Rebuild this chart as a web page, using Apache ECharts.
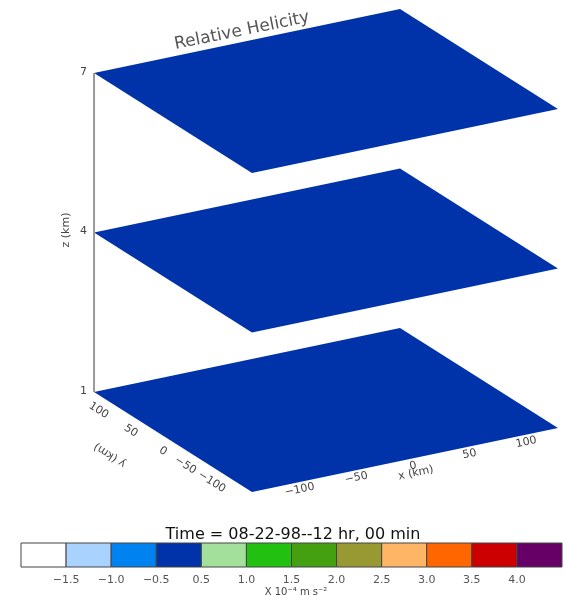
<!DOCTYPE html>
<html>
<head>
<meta charset="utf-8">
<script src="https://cdn.jsdelivr.net/npm/echarts@6/dist/echarts.min.js"></script>
<style>
html,body{margin:0;padding:0;background:#fff}
#main{width:565px;height:596px}
</style>
</head>
<body>
<div id="main"></div>
<script>
//数据
var zLevels = [1, 4, 7];
var xRange = [-135, 135];
var yRange = [-135, 135];
var xTicks = [-100, -50, 0, 50, 100];
var yTicks = [-100, -50, 0, 50, 100];
var zTicks = [1, 4, 7];
var levelLabels = ['\u22121.5', '\u22121.0', '\u22120.5', '0.5', '1.0', '1.5', '2.0', '2.5', '3.0', '3.5', '4.0'];
var levelColors = ['#ffffff', '#aad2ff', '#0082f0', '#0033aa', '#a2e09c', '#22c010', '#44a010', '#999933', '#ffb566', '#ff6600', '#cc0000', '#660066'];
var planeLevel = 3;   //所有平面都落在 -0.5~0.5 区间

var FONT = 'DejaVu Sans, Verdana, sans-serif';
var TXT = '#444';

/*
 * 斜投影: (x,y,z) -> 屏幕坐标轴上的值
 */
function proj(x, y, z){
	return [326 + 1.1333 * x - 0.585 * y, 410 - 0.237 * x - 0.370 * y - 53.17 * (z - 1)];
}

function textEl(p, text, opt){
	return {
		type: 'text',
		x: p[0] + (opt.dx || 0),
		y: p[1] + (opt.dy || 0),
		rotation: opt.rotation || 0,
		style: {
			text: text,
			fill: TXT,
			font: (opt.size || 11) + 'px ' + FONT,
			align: opt.align || 'center',
			textAlign: opt.align || 'center',
			verticalAlign: 'middle',
			textVerticalAlign: 'middle'
		}
	};
}

function label(x, y, text, size, rot, color){
	return {
		type: 'text', x: x, y: y, rotation: rot || 0,
		style: {
			text: text, fill: color || TXT, font: size + 'px ' + FONT,
			align: 'center', verticalAlign: 'middle', textAlign: 'center', textVerticalAlign: 'middle'
		}
	};
}

var chart = echarts.init(document.getElementById('main'));
var option = {
	animation: false,
	grid: [
		{left: 0, right: 0, top: 0, bottom: 0},
		{left: 21, top: 543, width: 542, height: 24}
	],
	xAxis: [
		{type: 'value', min: 0, max: 565, show: false, gridIndex: 0},
		{
			type: 'value', min: 0, max: 12, interval: 1, gridIndex: 1,
			axisLine: {show: false},
			axisTick: {show: false},
			splitLine: {show: false},
			axisLabel: {
				margin: 8,
				color: '#555',
				fontSize: 11,
				fontFamily: FONT,
				formatter: function(v){
					return (v >= 1 && v <= 11) ? levelLabels[v - 1] : '';
				}
			}
		}
	],
	yAxis: [
		{type: 'value', min: 0, max: 596, inverse: true, show: false, gridIndex: 0},
		{type: 'value', min: 0, max: 1, show: false, gridIndex: 1}
	],
	series: [
		{
			//三个高度层的平面
			type: 'custom',
			xAxisIndex: 0, yAxisIndex: 0,
			data: zLevels.map(function(z){ return [z]; }),
			renderItem: function(params, api){
				var z = api.value(0);
				var corners = [
					[xRange[0], yRange[1]], [xRange[1], yRange[1]],
					[xRange[1], yRange[0]], [xRange[0], yRange[0]]
				];
				var pts = corners.map(function(c){ return api.coord(proj(c[0], c[1], z)); });
				return {
					type: 'polygon',
					shape: {points: pts},
					style: {fill: levelColors[planeLevel]}
				};
			}
		},
		{
			//z 轴
			type: 'custom',
			xAxisIndex: 0, yAxisIndex: 0,
			data: [[zTicks[0], zTicks[zTicks.length - 1]]],
			renderItem: function(params, api){
				var a = api.coord(proj(xRange[0], yRange[1], api.value(0)));
				var b = api.coord(proj(xRange[0], yRange[1], api.value(1)));
				return {
					type: 'line',
					shape: {x1: a[0], y1: a[1], x2: b[0], y2: b[1]},
					style: {stroke: '#9a9a9a', lineWidth: 2}
				};
			}
		},
		{
			type: 'custom',
			xAxisIndex: 0, yAxisIndex: 0,
			data: zTicks.map(function(z){ return [z]; }),
			renderItem: function(params, api){
				var p = api.coord(proj(xRange[0], yRange[1], api.value(0)));
				return textEl(p, String(api.value(0)), {dx: -7, dy: -1, align: 'right', size: 11});
			}
		},
		{
			type: 'custom',
			xAxisIndex: 0, yAxisIndex: 0,
			data: xTicks.map(function(x){ return [x]; }),
			renderItem: function(params, api){
				var v = api.value(0);
				var p = api.coord(proj(v, yRange[0], zLevels[0]));
				var s = v < 0 ? '\u2212' + Math.abs(v) : String(v);
				return textEl(p, s, {dx: 8, dy: 6, rotation: 0.206, size: 11});
			}
		},
		{
			type: 'custom',
			xAxisIndex: 0, yAxisIndex: 0,
			data: yTicks.map(function(y){ return [y]; }),
			renderItem: function(params, api){
				var v = api.value(0);
				var p = api.coord(proj(xRange[0], v, zLevels[0]));
				var s = v < 0 ? '\u2212' + Math.abs(v) : String(v);
				return textEl(p, s, {dx: -7, dy: 11, rotation: -0.565, align: 'right', size: 11});
			}
		},
		{
			//色标
			type: 'custom',
			xAxisIndex: 1, yAxisIndex: 1,
			data: levelColors.map(function(c, i){ return [i, i + 1]; }),
			renderItem: function(params, api){
				var p0 = api.coord([api.value(0), 1]);
				var p1 = api.coord([api.value(1), 0]);
				return {
					type: 'rect',
					shape: {x: p0[0], y: p0[1], width: p1[0] - p0[0], height: p1[1] - p0[1]},
					style: {fill: levelColors[params.dataIndex], stroke: '#444', lineWidth: 1}
				};
			}
		}
	],
	graphic: [
		label(242, 31, 'Relative Helicity', 17, 0.201, '#555'),
		label(66, 230, 'z (km)', 11, Math.PI / 2),
		label(110, 455, 'y (km)', 11, Math.PI - 0.565),
		label(416, 473, 'x (km)', 11, 0.206),
		label(293, 535, 'Time = 08-22-98--12 hr, 00 min', 16, 0, '#111'),
		label(296, 592, 'X 10\u207b\u2074 m s\u207b\u00b2', 10)
	]
};
chart.setOption(option);
</script>
</body>
</html>
